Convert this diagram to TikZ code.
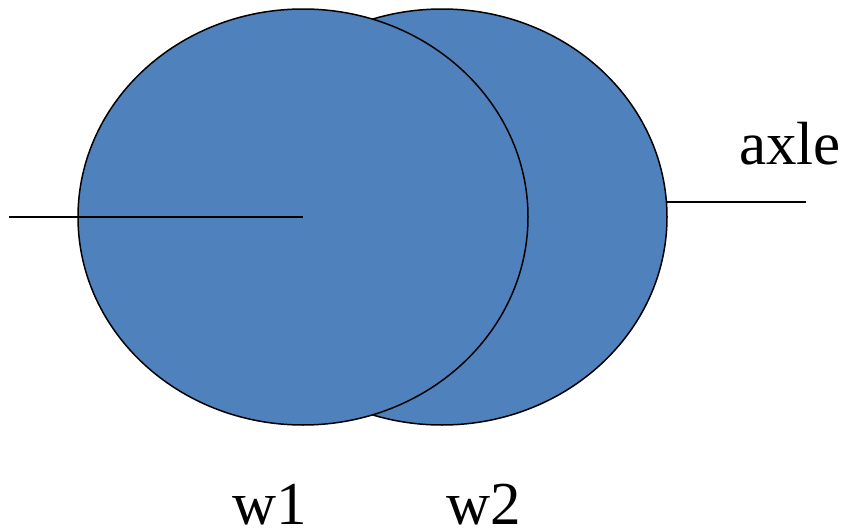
\documentclass[tikz,border=0pt]{standalone}
\usepackage{fontspec}
\setmainfont{Liberation Serif}
\usetikzlibrary{shapes.geometric}
\definecolor{wheelblue}{HTML}{4F81BD}
\begin{document}
\begin{tikzpicture}[x=1pt,y=-1pt,
  wheel/.style={ellipse,draw=black,line width=1.5pt,fill=wheelblue,minimum width=450pt,minimum height=416pt,inner sep=0pt},
  axleline/.style={draw=black,line width=1.5pt},
  lbl/.style={font=\fontsize{61}{63}\selectfont,inner sep=0pt,anchor=base west}]
\useasboundingbox (0,0) rectangle (849,530);
\node[wheel] (w2) at (442,217) {};
\node[wheel] (w1) at (303,217) {};
\coordinate (la) at (9,217);
\coordinate (ra) at (667,202);
\coordinate (rb) at (806,202);
\draw[axleline] (la) -- (w1.center);
\draw[axleline] (ra) -- (rb);
\node[lbl] (axle) at (739,164) {axle};
\node[lbl] (t1) at (232,524) {w1};
\node[lbl] (t2) at (446,524) {w2};
\end{tikzpicture}
\end{document}
